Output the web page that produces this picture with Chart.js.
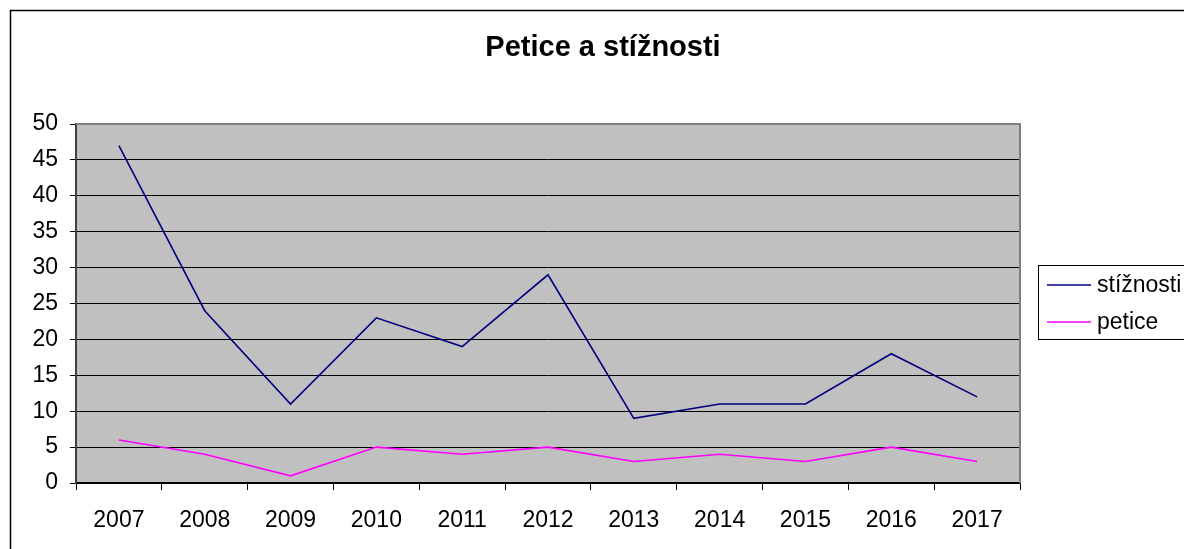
<!DOCTYPE html>
<html>
<head>
<meta charset="utf-8">
<script src="https://cdn.jsdelivr.net/npm/chart.js@4"></script>
<style>
  html, body { margin: 0; padding: 0; background: #fff; }
  #wrap { width: 1184px; height: 549px; position: relative; }
</style>
</head>
<body>
<div id="wrap"><canvas id="chart"></canvas></div>
<script>
// values
const years = ['2007', '2008', '2009', '2010', '2011', '2012', '2013', '2014', '2015', '2016', '2017'];
const stiznosti = [47, 24, 11, 23, 19, 29, 9, 11, 11, 18, 12];
const petice = [6, 4, 1, 5, 4, 5, 3, 4, 3, 5, 3];
const chartTitle = 'Petice a stížnosti';

const FONT = '"Liberation Sans", Arial, sans-serif';

// gray plot area, outer frame, title and boxed legend
const excelLook = {
  id: 'excelLook',
  beforeDraw(chart) {
    const ctx = chart.ctx;
    const a = chart.chartArea;
    ctx.save();
    ctx.fillStyle = '#c0c0c0';
    ctx.fillRect(a.left, a.top, a.right - a.left, a.bottom - a.top);
    ctx.strokeStyle = '#000';
    ctx.lineWidth = 1.5;
    ctx.strokeRect(10.5, 10.5, 1400, 1400);
    ctx.restore();
  },
  afterDatasetsDraw(chart) {
    const ctx = chart.ctx;
    const a = chart.chartArea;
    ctx.save();
    ctx.strokeStyle = '#808080';
    ctx.lineWidth = 2;
    ctx.beginPath();
    ctx.moveTo(a.left, a.top);
    ctx.lineTo(a.right, a.top);
    ctx.lineTo(a.right, a.bottom);
    ctx.stroke();

    ctx.fillStyle = '#000';
    ctx.font = 'bold 29px ' + FONT;
    ctx.textAlign = 'center';
    ctx.textBaseline = 'middle';
    ctx.fillText(chartTitle, 603, 48);

    // legend
    ctx.lineWidth = 1;
    ctx.strokeStyle = '#000';
    ctx.strokeRect(1038.5, 265.5, 200, 74);
    ctx.font = '23px ' + FONT;
    ctx.textAlign = 'left';
    chart.data.datasets.forEach((ds, i) => {
      const y = 285 + i * 37;
      ctx.strokeStyle = ds.borderColor;
      ctx.lineWidth = 1.5;
      ctx.beginPath();
      ctx.moveTo(1047, y);
      ctx.lineTo(1091, y);
      ctx.stroke();
      ctx.fillStyle = '#000';
      ctx.fillText(ds.label, 1097, y + 1);
    });
    ctx.restore();
  }
};

new Chart(document.getElementById('chart'), {
  type: 'line',
  data: {
    labels: years,
    datasets: [
      { label: 'stížnosti', data: stiznosti, borderColor: '#000080', borderWidth: 1.6, pointRadius: 0, tension: 0 },
      { label: 'petice', data: petice, borderColor: '#ff00ff', borderWidth: 1.6, pointRadius: 0, tension: 0 }
    ]
  },
  options: {
    responsive: true,
    maintainAspectRatio: false,
    animation: false,
    layout: { padding: { top: 124, right: 164, left: 0, bottom: 0 } },
    plugins: {
      legend: { display: false },
      title: { display: false },
      tooltip: { enabled: false }
    },
    scales: {
      x: {
        offset: true,
        grid: { offset: true, drawOnChartArea: false, color: '#000', tickLength: 7 },
        border: { color: '#000', width: 1.5 },
        ticks: { color: '#000', font: { family: FONT, size: 23 }, padding: 17, maxRotation: 0 },
        afterFit(scale) { scale.height = 66; }
      },
      y: {
        min: 0,
        max: 50,
        ticks: { stepSize: 5, color: '#000', font: { family: FONT, size: 23 }, padding: 12 },
        grid: { color: '#000', lineWidth: 1, tickLength: 6 },
        border: { color: '#404040', width: 2 },
        afterFit(scale) { scale.width = 76; }
      }
    }
  },
  plugins: [excelLook]
});
</script>
</body>
</html>
